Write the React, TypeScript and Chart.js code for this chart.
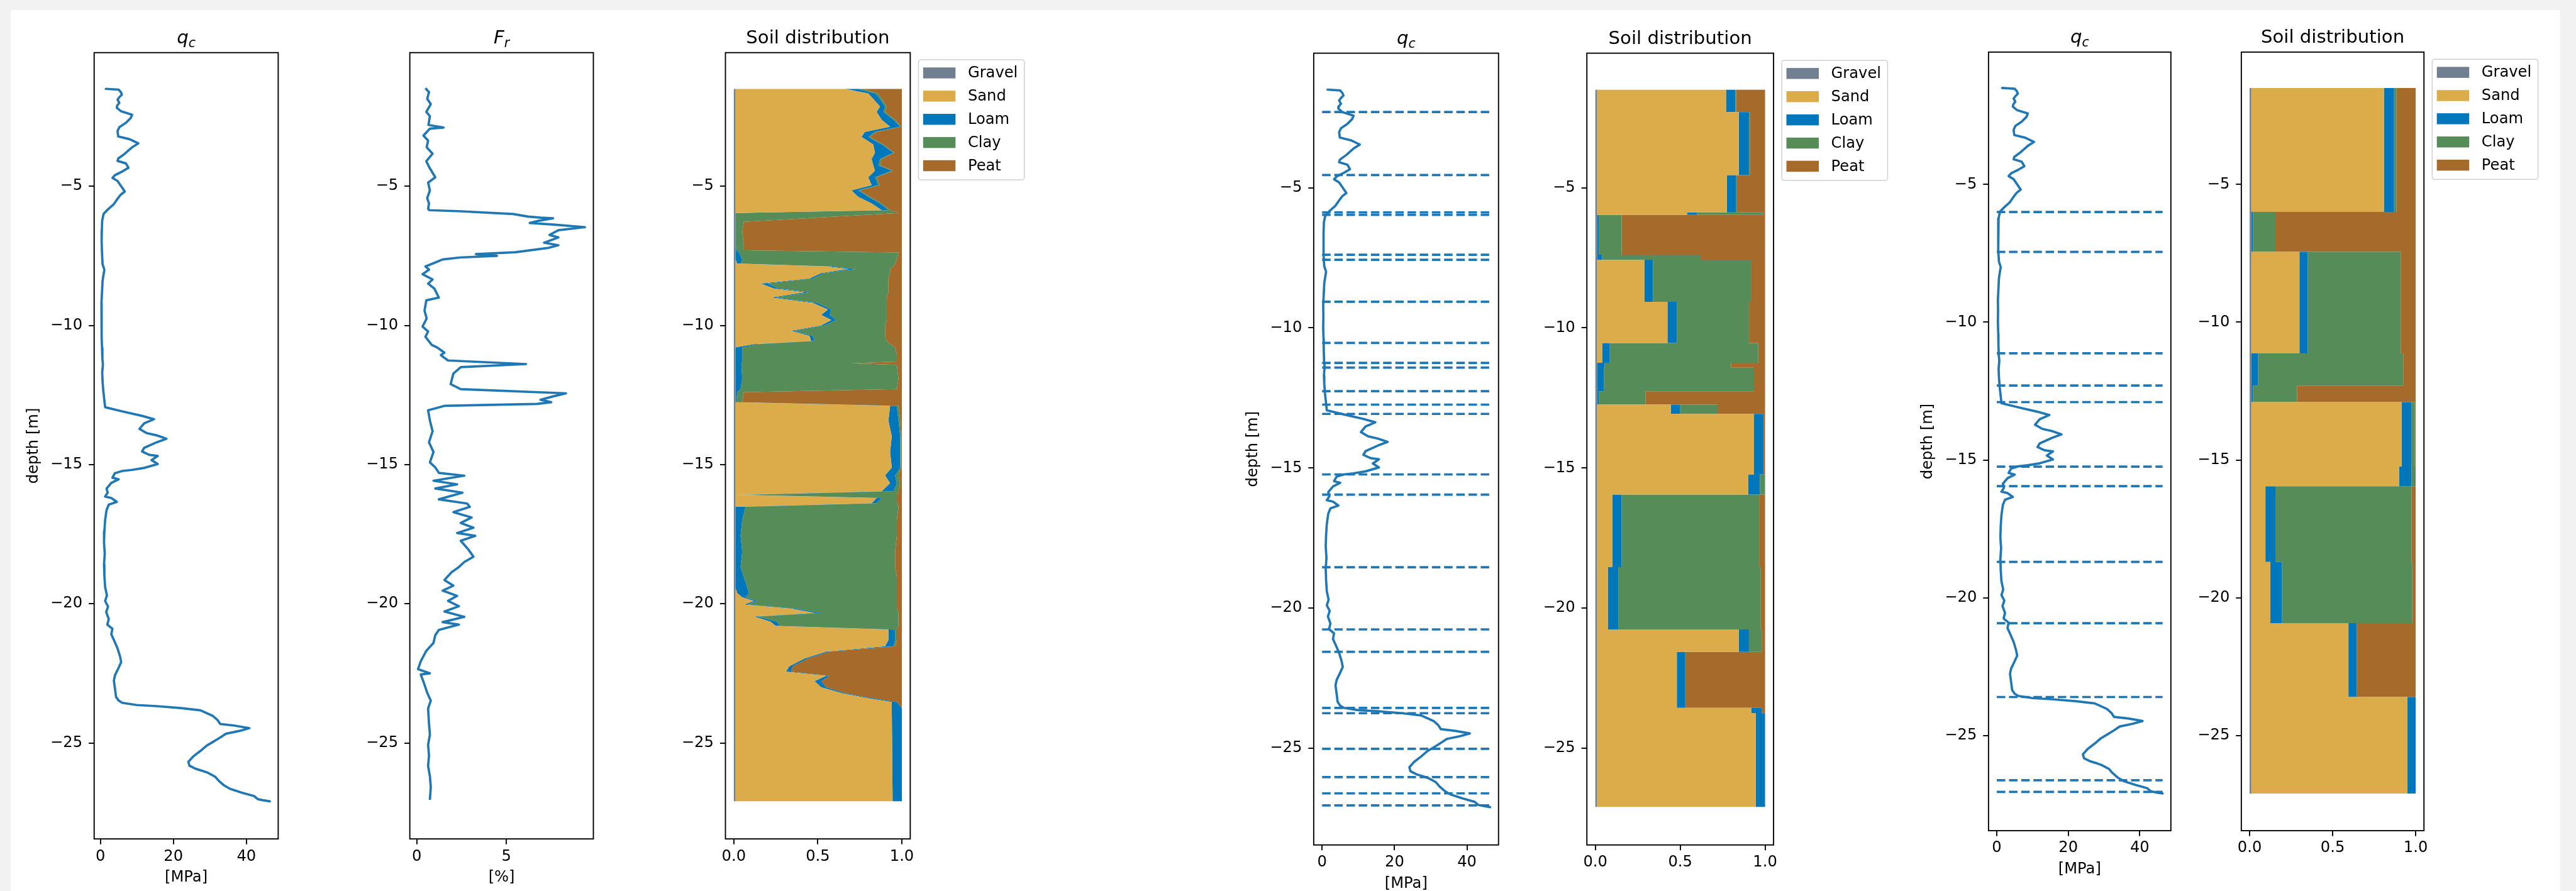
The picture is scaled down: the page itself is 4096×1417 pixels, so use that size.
import React, { useEffect, useRef } from 'react';
import { Chart, registerables } from 'chart.js';

Chart.register(...registerables);

// ---------------- data ----------------
const DEPTH_RANGE: [number, number] = [-28.45, -0.2];
const Y_TICKS = [-25, -20, -15, -10, -5];

const QC_TICKS = [0, 20, 40];
const QC_TICK_LABELS = ['0', '20', '40'];
const FR_TICKS = [0, 5];
const FR_TICK_LABELS = ['0', '5'];
const SOIL_TICKS = [0, 0.5, 1];
const SOIL_TICK_LABELS = ['0.0', '0.5', '1.0'];

const QC_DEPTH = [
  -1.5, -1.53, -1.62, -1.71, -1.8, -1.89, -2.0, -2.1, -2.18, -2.3, -2.43, -2.55, -2.72, -2.88, -3.02,
  -3.21, -3.31, -3.46, -3.6, -3.83, -4.0, -4.09, -4.18, -4.34, -4.47, -4.6, -4.7, -4.81, -5.0, -5.19,
  -5.3, -5.45, -5.64, -5.84, -5.99, -6.23, -6.6, -7.0, -7.4, -7.8, -8.0, -8.15, -8.4, -8.8, -9.2,
  -9.6, -10.0, -10.4, -10.8, -11.2, -11.4, -11.7, -12.0, -12.35, -12.7, -12.94, -13.09, -13.25, -13.37, -13.52,
  -13.72, -13.87, -13.95, -14.07, -14.2, -14.4, -14.53, -14.65, -14.69, -14.84, -14.98, -15.12, -15.19, -15.23, -15.31,
  -15.47, -15.53, -15.66, -15.86, -16.01, -16.15, -16.2, -16.34, -16.44, -16.63, -17.0, -17.4, -17.8, -18.2, -18.6,
  -19.0, -19.4, -19.7, -19.9, -20.1, -20.3, -20.55, -20.75, -20.9, -21.1, -21.3, -21.6, -21.9, -22.1, -22.3,
  -22.57, -22.76, -23.05, -23.35, -23.48, -23.56, -23.64, -23.68, -23.75, -23.83, -24.03, -24.18, -24.32, -24.38, -24.47,
  -24.57, -24.67, -24.81, -25.0, -25.1, -25.29, -25.49, -25.68, -25.82, -25.93, -26.01, -26.07, -26.21, -26.36, -26.52,
  -26.65, -26.79, -26.91, -27.02, -27.06, -27.1,
];
const QC_VALUE = [
  1.5, 5.0, 5.6, 5.9, 5.2, 4.7, 5.2, 4.6, 4.5, 5.6, 8.7, 8.3, 7.0, 5.2, 4.7,
  4.9, 8.0, 10.4, 8.7, 6.7, 4.9, 4.7, 7.0, 7.7, 6.0, 4.0, 3.3, 4.7, 5.7, 6.7,
  5.6, 4.7, 3.7, 2.0, 0.9, 0.5, 0.4, 0.35, 0.45, 0.6, 1.1, 0.9, 0.6, 0.45, 0.3,
  0.35, 0.3, 0.4, 0.45, 0.55, 0.7, 0.5, 0.6, 0.8, 1.1, 1.3, 6.0, 11.4, 14.7, 12.0,
  10.7, 12.7, 15.4, 18.1, 15.4, 12.0, 11.4, 13.4, 15.7, 14.0, 15.7, 12.0, 8.7, 6.0, 4.0,
  3.3, 5.0, 3.0, 1.7, 2.0, 1.3, 3.0, 4.5, 2.3, 1.7, 1.3, 1.1, 1.0, 1.2, 1.0,
  1.1, 1.3, 1.8, 1.3, 2.1, 1.6, 2.3, 1.9, 3.3, 3.0, 3.7, 4.7, 5.4, 5.7, 5.0,
  4.0, 3.7, 4.0, 4.3, 5.0, 6.0, 10.0, 15.4, 22.1, 27.4, 30.8, 32.1, 32.8, 36.8, 40.8,
  38.1, 34.4, 32.8, 30.4, 29.1, 27.4, 25.4, 24.1, 24.4, 26.1, 28.1, 29.4, 31.4, 32.4, 33.8,
  35.5, 38.8, 42.1, 43.1, 44.5, 46.4,
];

const FR_DEPTH = [
  -1.48, -1.62, -1.86, -2.05, -2.33, -2.48, -2.8, -2.89, -2.93, -3.18, -3.36, -3.6, -3.83, -4.1, -4.3,
  -4.68, -4.87, -5.15, -5.43, -5.62, -5.81, -5.86, -5.9, -6.0, -6.09, -6.13, -6.15, -6.24, -6.32, -6.37,
  -6.47, -6.58, -6.75, -6.84, -7.03, -7.12, -7.22, -7.37, -7.44, -7.5, -7.56, -7.63, -7.74, -7.88, -8.0,
  -8.16, -8.35, -8.5, -8.68, -9.0, -9.1, -9.47, -9.75, -10.04, -10.22, -10.41, -10.7, -10.79, -10.98, -11.07,
  -11.26, -11.39, -11.5, -11.73, -12.11, -12.29, -12.44, -12.55, -12.67, -12.76, -12.82, -12.89, -13.05, -13.42, -13.8,
  -14.2, -14.55, -14.92, -15.1, -15.3, -15.4, -15.58, -15.71, -15.86, -16.01, -16.25, -16.4, -16.52, -16.71, -16.9,
  -17.1, -17.27, -17.46, -17.56, -17.74, -18.03, -18.31, -18.5, -18.68, -18.87, -19.15, -19.35, -19.53, -19.72, -19.9,
  -20.09, -20.28, -20.47, -20.66, -20.75, -20.94, -21.13, -21.41, -21.69, -22.07, -22.35, -22.5, -22.54, -22.91, -23.2,
  -23.48, -23.76, -24.32, -24.7, -25.07, -25.45, -25.83, -26.2, -26.58, -27.05,
];
const FR_VALUE = [
  0.48, 0.68, 0.58, 0.78, 0.53, 0.73, 0.65, 1.49, 0.73, 0.37, 0.63, 0.55, 0.88, 0.53, 0.68,
  1.03, 0.63, 0.73, 0.58, 0.68, 0.63, 0.7, 2.45, 5.38, 6.19, 6.9, 7.6, 6.8, 6.3, 7.5,
  9.38, 7.9, 7.4, 7.9, 7.1, 7.9, 7.3, 5.5, 3.3, 4.47, 2.4, 1.44, 1.03, 0.48, 0.68,
  0.32, 0.88, 0.63, 0.98, 1.23, 0.53, 0.43, 0.55, 0.32, 0.63, 0.48, 0.83, 1.13, 1.54, 1.34,
  1.74, 6.09, 2.45, 2.04, 1.89, 2.45, 8.32, 7.61, 6.9, 7.5, 6.7, 1.54, 0.63, 0.73, 0.88,
  0.68, 0.93, 0.73, 1.03, 1.23, 2.65, 0.93, 2.25, 1.03, 2.55, 1.23, 2.8, 2.96, 2.04, 3.06,
  2.45, 3.16, 2.25, 3.26, 2.45, 2.85, 3.16, 2.65, 2.35, 1.94, 1.54, 2.04, 1.44, 2.25, 1.74,
  2.35, 1.54, 2.65, 1.44, 2.35, 1.23, 1.03, 0.93, 0.53, 0.22, 0.07, 0.73, 0.22, 0.43, 0.58,
  0.78, 0.63, 0.68, 0.73, 0.63, 0.68, 0.63, 0.73, 0.78, 0.73,
];

const SOIL_NAMES = ['Gravel', 'Sand', 'Loam', 'Clay', 'Peat'];
const SOIL_COLORS = ['#708090', '#DCAC4A', '#0077BB', '#568C57', '#A66A2B'];

// soil distribution, continuous (first group)
const S1_DEPTH = [
  -1.5, -1.67, -1.86, -2.14, -2.33, -2.61, -2.86, -3.05, -3.23, -3.5, -3.8, -4.02,
  -4.25, -4.44, -4.68, -4.96, -5.15, -5.38, -5.62, -5.86, -5.96, -6.28, -6.65, -7.12,
  -7.3, -7.38, -7.63, -7.78, -7.88, -7.97, -8.12, -8.31, -8.5, -8.68, -8.81, -9.0,
  -9.19, -9.43, -9.62, -9.81, -10.0, -10.19, -10.38, -10.56, -10.67, -10.79, -11.07, -11.3,
  -11.36, -11.42, -11.92, -12.29, -12.4, -12.76, -12.89, -13.42, -13.98, -14.55, -15.11, -15.39,
  -15.67, -15.96, -16.09, -16.2, -16.39, -16.52, -16.99, -17.55, -18.12, -18.68, -19.05, -19.43,
  -19.62, -19.77, -19.9, -20.03, -20.18, -20.33, -20.46, -20.65, -20.8, -20.93, -21.31, -21.53,
  -21.72, -21.97, -22.25, -22.44, -22.59, -22.78, -23.0, -23.23, -23.42, -23.53, -23.76, -27.1,
];
const S1_GRAVEL = [
  0.01, 0.01, 0.01, 0.01, 0.01, 0.01, 0.01, 0.01, 0.01, 0.01, 0.01, 0.01,
  0.01, 0.01, 0.01, 0.01, 0.01, 0.01, 0.01, 0.01, 0.01, 0.01, 0.01, 0.01,
  0.01, 0.01, 0.01, 0.01, 0.01, 0.01, 0.01, 0.01, 0.01, 0.01, 0.01, 0.01,
  0.01, 0.01, 0.01, 0.01, 0.01, 0.01, 0.01, 0.01, 0.01, 0.01, 0.01, 0.01,
  0.01, 0.01, 0.01, 0.01, 0.01, 0.01, 0.01, 0.01, 0.01, 0.01, 0.01, 0.01,
  0.01, 0.01, 0.01, 0.01, 0.01, 0.01, 0.01, 0.01, 0.01, 0.01, 0.01, 0.01,
  0.01, 0.01, 0.01, 0.01, 0.01, 0.01, 0.01, 0.01, 0.01, 0.01, 0.01, 0.01,
  0.01, 0.01, 0.01, 0.01, 0.01, 0.01, 0.01, 0.01, 0.01, 0.01, 0.01, 0.01,
];
const S1_SAND = [
  0.65, 0.79, 0.82, 0.86, 0.84, 0.87, 0.92, 0.77, 0.75, 0.82, 0.83, 0.81,
  0.82, 0.83, 0.79, 0.81, 0.69, 0.73, 0.81, 0.87, 0, 0, 0, 0,
  0, 0, 0, 0.01, 0.54, 0.67, 0.51, 0.44, 0.15, 0.23, 0.41, 0.21,
  0.46, 0.55, 0.51, 0.57, 0.51, 0.33, 0.44, 0.45, 0.11, 0, 0, 0,
  0, 0, 0, 0, 0, 0, 0.92, 0.91, 0.93, 0.92, 0.93, 0.89,
  0.92, 0.87, 0, 0.84, 0.81, 0, 0, 0, 0, 0, 0, 0,
  0.01, 0.04, 0.11, 0.05, 0.33, 0.47, 0.11, 0.21, 0.24, 0.91, 0.91, 0.89,
  0.54, 0.41, 0.32, 0.3, 0.54, 0.47, 0.51, 0.64, 0.81, 0.93, 0.93, 0.935,
];
const S1_LOAM = [
  0.08, 0.04, 0.04, 0.03, 0.04, 0.07, 0.06, 0.06, 0.04, 0.05, 0.11, 0.05,
  0.03, 0.1, 0.04, 0.04, 0.04, 0.06, 0.05, 0.04, 0.002, 0.002, 0.002, 0.002,
  0.005, 0.02, 0.04, 0.02, 0.03, 0.05, 0.02, 0.02, 0.04, 0.03, 0.03, 0.03,
  0.03, 0.02, 0.05, 0.03, 0.02, 0.02, 0.02, 0.02, 0.03, 0.04, 0.04, 0.04,
  0.035, 0.035, 0.04, 0.03, 0.01, 0.005, 0.04, 0.06, 0.05, 0.06, 0.05, 0.06,
  0.04, 0.07, 0.04, 0.03, 0.03, 0.06, 0.04, 0.03, 0.04, 0.03, 0.05, 0.07,
  0.07, 0.02, 0.02, 0.02, 0.03, 0.04, 0.02, 0.04, 0.02, 0.04, 0.04, 0.05,
  0.02, 0.02, 0.02, 0.03, 0.02, 0.04, 0.03, 0.02, 0.03, 0.03, 0.06, 0.055,
];
const S1_CLAY = [
  0.02, 0.02, 0.01, 0.01, 0.01, 0.01, 0.005, 0.01, 0.01, 0.01, 0.005, 0.01,
  0.01, 0.01, 0.01, 0.01, 0.01, 0.01, 0.01, 0.01, 0.968, 0.048, 0.038, 0.048,
  0.045, 0.95, 0.92, 0.92, 0.37, 0.2, 0.39, 0.45, 0.72, 0.65, 0.47, 0.66,
  0.41, 0.33, 0.34, 0.3, 0.36, 0.54, 0.43, 0.43, 0.78, 0.91, 0.92, 0.92,
  0.655, 0.925, 0.93, 0.93, 0.04, 0.035, 0.01, 0.01, 0.005, 0.005, 0.005, 0.02,
  0.02, 0.03, 0.92, 0.09, 0.12, 0.91, 0.92, 0.93, 0.91, 0.92, 0.91, 0.89,
  0.88, 0.9, 0.83, 0.89, 0.6, 0.46, 0.84, 0.72, 0.71, 0.01, 0.01, 0.01,
  0, 0, 0, 0, 0, 0, 0, 0, 0, 0, 0, 0,
];
const S1_PEAT = [
  0.24, 0.14, 0.12, 0.09, 0.1, 0.04, 0.005, 0.15, 0.19, 0.11, 0.045, 0.12,
  0.13, 0.05, 0.15, 0.13, 0.25, 0.19, 0.12, 0.07, 0.02, 0.94, 0.95, 0.94,
  0.94, 0.02, 0.03, 0.04, 0.05, 0.07, 0.07, 0.08, 0.08, 0.08, 0.08, 0.09,
  0.09, 0.09, 0.09, 0.09, 0.1, 0.1, 0.1, 0.09, 0.07, 0.04, 0.03, 0.03,
  0.3, 0.03, 0.02, 0.03, 0.94, 0.95, 0.02, 0.01, 0.005, 0.005, 0.005, 0.02,
  0.01, 0.02, 0.03, 0.03, 0.03, 0.02, 0.03, 0.03, 0.04, 0.04, 0.03, 0.03,
  0.03, 0.03, 0.03, 0.03, 0.03, 0.02, 0.02, 0.02, 0.02, 0.03, 0.03, 0.04,
  0.43, 0.56, 0.65, 0.66, 0.43, 0.48, 0.45, 0.33, 0.15, 0.03, 0, 0,
];

// layered soil distribution (second group); layer boundaries = dashed lines
const S2_BOUNDS = [
  -1.5, -2.3, -4.55, -5.88, -5.97, -7.39, -7.57, -9.07, -10.54, -11.25, -11.42, -12.26, -12.74,
  -13.07, -15.23, -15.95, -18.54, -20.76, -21.56, -23.56, -23.75, -25.02, -26.03, -26.61, -27.04, -27.1,
];
const S2_GRAVEL = [0.01, 0.01, 0.01, 0.01, 0.01, 0.01, 0.01, 0.01, 0.01, 0.01, 0.01, 0.01, 0.01, 0.01, 0.01, 0.01, 0.01, 0.01, 0.01, 0.01, 0.01, 0.01, 0.01, 0.01, 0.01];
const S2_SAND = [0.76, 0.835, 0.765, 0.53, 0, 0, 0.28, 0.415, 0.03, 0, 0, 0, 0.435, 0.925, 0.89, 0.09, 0.065, 0.835, 0.47, 0.91, 0.935, 0.935, 0.935, 0.935, 0.935];
const S2_LOAM = [0.055, 0.06, 0.055, 0.06, 0.01, 0.03, 0.05, 0.055, 0.045, 0.045, 0.04, 0.01, 0.055, 0.055, 0.07, 0.055, 0.06, 0.06, 0.05, 0.06, 0.055, 0.055, 0.055, 0.055, 0.055];
const S2_CLAY = [0.005, 0.005, 0.005, 0.39, 0.135, 0.58, 0.58, 0.425, 0.875, 0.745, 0.885, 0.275, 0.22, 0, 0.03, 0.81, 0.84, 0.075, 0, 0, 0, 0, 0, 0, 0];
const S2_PEAT = [0.17, 0.09, 0.165, 0.01, 0.845, 0.38, 0.08, 0.095, 0.04, 0.2, 0.065, 0.705, 0.28, 0.01, 0, 0.035, 0.025, 0.02, 0.47, 0.02, 0, 0, 0, 0, 0];

// layered soil distribution (third group)
const S3_BOUNDS = [-1.5, -6.0, -7.45, -11.13, -12.3, -12.9, -15.24, -15.95, -18.7, -20.92, -23.6, -26.62, -27.04, -27.1];
const S3_GRAVEL = [0.01, 0.01, 0.01, 0.01, 0.01, 0.01, 0.01, 0.01, 0.01, 0.01, 0.01, 0.01, 0.01];
const S3_SAND = [0.8, 0, 0.29, 0, 0, 0.905, 0.89, 0.085, 0.115, 0.585, 0.94, 0.94, 0.94];
const S3_LOAM = [0.06, 0.01, 0.05, 0.04, 0.01, 0.06, 0.075, 0.06, 0.07, 0.05, 0.05, 0.05, 0.05];
const S3_CLAY = [0.015, 0.135, 0.56, 0.875, 0.265, 0.02, 0.025, 0.82, 0.785, 0, 0, 0, 0];
const S3_PEAT = [0.115, 0.845, 0.09, 0.075, 0.715, 0.005, 0, 0.025, 0.02, 0.355, 0, 0, 0];

// ---------------- style / layout ----------------
const S = 0.872;
const FONT_FAMILY = '"DejaVu Sans", "Noto Sans", sans-serif';
const TICK_SIZE = 24.2;
const TITLE_SIZE = 29.2;
const LINE_BLUE = '#1f77b4';
const LINE_W = 3.7;
const SPINE_W = 1.9;
const W_Y = 150;
const PT = 70;
const H_X = 100;

type Part = { t: string; it?: boolean; sub?: boolean };
type Box = { l: number; r: number; t: number; b: number };
interface Spec {
  key: string;
  box: Box; // reference-pixel box of the plot area
  xRange: [number, number];
  xTicks: number[];
  xTickLabels: string[];
  title: Part[];
  xLabel: string;
  yLabel?: string;
  legend?: boolean;
  datasets: any[];
}

const fmtDepth = (v: number) => (v < 0 ? '\u2212' + Math.abs(v) : String(v));

function qcLine() {
  return {
    data: QC_DEPTH.map((d, i) => ({ x: QC_VALUE[i], y: d })),
    borderColor: LINE_BLUE,
    borderWidth: LINE_W,
    borderJoinStyle: 'round',
    borderCapStyle: 'round',
    pointRadius: 0,
    fill: false,
  };
}

function hLines(bounds: number[]) {
  const xMax = Math.max(...QC_VALUE);
  return bounds.slice(1, -1).map((d) => ({
    data: [
      { x: 0, y: d },
      { x: xMax, y: d },
    ],
    borderColor: LINE_BLUE,
    borderWidth: LINE_W,
    borderDash: [13.5, 5.9],
    borderCapStyle: 'butt',
    pointRadius: 0,
    fill: false,
  }));
}

function soilSets(depths: number[], series: number[][]) {
  const cum = depths.map(() => 0);
  return series.map((vals, k) => {
    const data = depths.map((d, i) => {
      cum[i] += vals[i];
      return { x: cum[i], y: d };
    });
    return {
      label: SOIL_NAMES[k],
      data,
      fill: k === 0 ? 'origin' : '-1',
      backgroundColor: SOIL_COLORS[k],
      borderColor: 'rgba(0,0,0,0)',
      borderWidth: 0,
      borderDash: [1, 1], // forces exact path drawing for the fills
      pointRadius: 0,
    };
  });
}

function layered(bounds: number[], series: number[][]) {
  const depths: number[] = [];
  for (let i = 0; i < bounds.length - 1; i++) depths.push(bounds[i], bounds[i + 1]);
  const expanded = series.map((vals) => {
    const out: number[] = [];
    vals.forEach((v) => out.push(v, v));
    return out;
  });
  return soilSets(depths, expanded);
}

const T_QC: Part[] = [{ t: 'q', it: true }, { t: 'c', it: true, sub: true }];
const T_FR: Part[] = [{ t: 'F', it: true }, { t: 'r', it: true, sub: true }];
const T_SOIL: Part[] = [{ t: 'Soil distribution' }];

const QC_RANGE_1: [number, number] = [-1.7, 48.7];
const QC_RANGE_2: [number, number] = [-2.32, 48.72];
const FR_RANGE: [number, number] = [-0.39, 9.85];
const SOIL_RANGE: [number, number] = [-0.05, 1.05];

const SPECS: Spec[] = [
  {
    key: 'g1qc', box: { l: 171.7, r: 507.3, t: 96, b: 1530 }, xRange: QC_RANGE_1,
    xTicks: QC_TICKS, xTickLabels: QC_TICK_LABELS, title: T_QC, xLabel: '[MPa]', yLabel: 'depth [m]',
    datasets: [qcLine()],
  },
  {
    key: 'g1fr', box: { l: 747.3, r: 1082, t: 96, b: 1530 }, xRange: FR_RANGE,
    xTicks: FR_TICKS, xTickLabels: FR_TICK_LABELS, title: T_FR, xLabel: '[%]',
    datasets: [
      {
        data: FR_DEPTH.map((d, i) => ({ x: FR_VALUE[i], y: d })),
        borderColor: LINE_BLUE, borderWidth: LINE_W, borderJoinStyle: 'round', pointRadius: 0, fill: false,
      },
    ],
  },
  {
    key: 'g1soil', box: { l: 1322.8, r: 1659.8, t: 96, b: 1530 }, xRange: SOIL_RANGE,
    xTicks: SOIL_TICKS, xTickLabels: SOIL_TICK_LABELS, title: T_SOIL, xLabel: '', legend: true,
    datasets: soilSets(S1_DEPTH, [S1_GRAVEL, S1_SAND, S1_LOAM, S1_CLAY, S1_PEAT]),
  },
  {
    key: 'g2qc', box: { l: 2395.5, r: 2732.5, t: 97, b: 1541 }, xRange: QC_RANGE_2,
    xTicks: QC_TICKS, xTickLabels: QC_TICK_LABELS, title: T_QC, xLabel: '[MPa]', yLabel: 'depth [m]',
    datasets: [qcLine(), ...hLines(S2_BOUNDS)],
  },
  {
    key: 'g2soil', box: { l: 2893.6, r: 3234, t: 97, b: 1541 }, xRange: SOIL_RANGE,
    xTicks: SOIL_TICKS, xTickLabels: SOIL_TICK_LABELS, title: T_SOIL, xLabel: '', legend: true,
    datasets: layered(S2_BOUNDS, [S2_GRAVEL, S2_SAND, S2_LOAM, S2_CLAY, S2_PEAT]),
  },
  {
    key: 'g3qc', box: { l: 3626, r: 3958.5, t: 95, b: 1515 }, xRange: QC_RANGE_2,
    xTicks: QC_TICKS, xTickLabels: QC_TICK_LABELS, title: T_QC, xLabel: '[MPa]', yLabel: 'depth [m]',
    datasets: [qcLine(), ...hLines(S3_BOUNDS)],
  },
  {
    key: 'g3soil', box: { l: 4087, r: 4420, t: 95, b: 1515 }, xRange: SOIL_RANGE,
    xTicks: SOIL_TICKS, xTickLabels: SOIL_TICK_LABELS, title: T_SOIL, xLabel: '', legend: true,
    datasets: layered(S3_BOUNDS, [S3_GRAVEL, S3_SAND, S3_LOAM, S3_CLAY, S3_PEAT]),
  },
];

// ---------------- drawing helpers ----------------
function drawRich(ctx: CanvasRenderingContext2D, parts: Part[], cx: number, baseline: number, size: number) {
  const items = parts.map((p) => {
    const sz = p.sub ? size * 0.7 : size;
    const font = `${p.it ? 'italic ' : ''}${sz}px ${FONT_FAMILY}`;
    ctx.font = font;
    return { p, font, w: ctx.measureText(p.t).width, dy: p.sub ? size * 0.2 : 0 };
  });
  const total = items.reduce((s, it) => s + it.w, 0);
  let x = cx - total / 2;
  ctx.textAlign = 'left';
  ctx.textBaseline = 'alphabetic';
  for (const it of items) {
    ctx.font = it.font;
    ctx.fillText(it.p.t, x, baseline + it.dy);
    x += it.w;
  }
}

function drawLegend(ctx: CanvasRenderingContext2D, a: any) {
  const L = a.right + 15 * S;
  const T = a.top + 13 * S;
  const W = 193 * S;
  const H = 219 * S;
  ctx.save();
  ctx.beginPath();
  if ((ctx as any).roundRect) (ctx as any).roundRect(L, T, W, H, 4);
  else ctx.rect(L, T, W, H);
  ctx.fillStyle = 'rgba(255,255,255,0.8)';
  ctx.fill();
  ctx.strokeStyle = '#d0d0d0';
  ctx.lineWidth = 1.5;
  ctx.stroke();
  ctx.font = `${TICK_SIZE}px ${FONT_FAMILY}`;
  ctx.textAlign = 'left';
  ctx.textBaseline = 'middle';
  SOIL_NAMES.forEach((name, i) => {
    const y = T + (24 + 42.3 * i) * S;
    ctx.fillStyle = SOIL_COLORS[i];
    ctx.fillRect(L + 8.5 * S, y - 10 * S, 59 * S, 20 * S);
    ctx.fillStyle = '#000';
    ctx.fillText(name, L + 90 * S, y + 1);
  });
  ctx.restore();
}

function decor(spec: Spec) {
  return {
    id: 'decor_' + spec.key,
    afterDatasetsDraw(chart: any) {
      const { ctx, chartArea: a } = chart;
      ctx.save();
      ctx.strokeStyle = '#000';
      ctx.lineWidth = SPINE_W;
      ctx.strokeRect(a.left, a.top, a.right - a.left, a.bottom - a.top);
      ctx.restore();
    },
    afterDraw(chart: any) {
      const { ctx, chartArea: a } = chart;
      const cx = (a.left + a.right) / 2;
      ctx.save();
      ctx.fillStyle = '#000';
      drawRich(ctx, spec.title, cx, a.top - 17 * S, TITLE_SIZE);
      ctx.font = `${TICK_SIZE}px ${FONT_FAMILY}`;
      ctx.textAlign = 'center';
      ctx.textBaseline = 'middle';
      if (spec.xLabel) ctx.fillText(spec.xLabel, cx, a.bottom + 71 * S);
      if (spec.yLabel) {
        ctx.save();
        ctx.translate(a.left - 110 * S, (a.top + a.bottom) / 2);
        ctx.rotate(-Math.PI / 2);
        ctx.fillText(spec.yLabel, 0, 0);
        ctx.restore();
      }
      if (spec.legend) drawLegend(ctx, a);
      ctx.restore();
    },
  };
}

function geometry(spec: Spec) {
  const aL = spec.box.l * S;
  const aR = spec.box.r * S;
  const aT = spec.box.t * S;
  const aB = spec.box.b * S;
  const cl = Math.floor(aL - W_Y);
  const ct = Math.floor(aT - PT);
  const pr = spec.legend ? 205 : 24;
  const cw = Math.ceil(aR - cl + pr);
  const ch = Math.ceil(aB - ct + H_X);
  return { cl, ct, cw, ch, wy: aL - cl, pt: aT - ct, padR: cw - (aR - cl), hx: ch - (aB - ct) };
}

function buildConfig(spec: Spec, g: ReturnType<typeof geometry>): any {
  const tickFont = { family: FONT_FAMILY, size: TICK_SIZE };
  const grid = {
    display: true,
    drawOnChartArea: false,
    drawTicks: true,
    tickLength: 8.6,
    tickWidth: SPINE_W,
    tickColor: '#000',
    color: '#000',
    lineWidth: SPINE_W,
  };
  return {
    type: 'line',
    data: { datasets: spec.datasets },
    options: {
      animation: false,
      responsive: false,
      maintainAspectRatio: false,
      devicePixelRatio: 1,
      indexAxis: 'y',
      events: [],
      layout: { padding: { left: 0, top: g.pt, right: g.padR, bottom: 0 }, autoPadding: false },
      plugins: { legend: { display: false }, tooltip: { enabled: false }, title: { display: false } },
      elements: { point: { radius: 0, hoverRadius: 0 }, line: { tension: 0 } },
      scales: {
        x: {
          type: 'linear',
          position: 'bottom',
          bounds: 'data',
          min: spec.xRange[0],
          max: spec.xRange[1],
          afterBuildTicks: (ax: any) => {
            ax.ticks = spec.xTicks.map((v) => ({ value: v }));
          },
          afterFit: (ax: any) => {
            ax.height = g.hx;
          },
          ticks: {
            autoSkip: false,
            maxRotation: 0,
            minRotation: 0,
            padding: 5,
            color: '#000',
            font: tickFont,
            callback: (v: number) => {
              const i = spec.xTicks.indexOf(v);
              return i >= 0 ? spec.xTickLabels[i] : '';
            },
          },
          grid,
          border: { display: false },
        },
        y: {
          type: 'linear',
          position: 'left',
          bounds: 'data',
          min: DEPTH_RANGE[0],
          max: DEPTH_RANGE[1],
          afterBuildTicks: (ax: any) => {
            ax.ticks = Y_TICKS.map((v) => ({ value: v }));
          },
          afterFit: (ax: any) => {
            ax.width = g.wy;
          },
          ticks: {
            autoSkip: false,
            padding: 10,
            color: '#000',
            font: tickFont,
            callback: (v: number) => fmtDepth(v),
          },
          grid,
          border: { display: false },
        },
      },
    },
    plugins: [decor(spec)],
  };
}

function PanelChart({ spec }: { spec: Spec }) {
  const ref = useRef<HTMLCanvasElement>(null);
  const g = geometry(spec);
  useEffect(() => {
    if (!ref.current) return;
    const chart = new Chart(ref.current, buildConfig(spec, g));
    return () => chart.destroy();
  }, []);
  return (
    <canvas
      ref={ref}
      width={g.cw}
      height={g.ch}
      style={{ position: 'absolute', left: g.cl, top: g.ct, width: g.cw, height: g.ch }}
    />
  );
}

export default function App() {
  return (
    <div
      style={{
        position: 'fixed',
        left: 0,
        top: 0,
        width: 4096,
        height: 1417,
        background: '#f2f2f2',
        overflow: 'hidden',
      }}
    >
      <div
        style={{
          position: 'absolute',
          left: 20 * S,
          top: 18 * S,
          width: (4669 - 20) * S,
          height: 1417 - 18 * S,
          background: '#ffffff',
        }}
      />
      {SPECS.map((s) => (
        <PanelChart key={s.key} spec={s} />
      ))}
    </div>
  );
}
